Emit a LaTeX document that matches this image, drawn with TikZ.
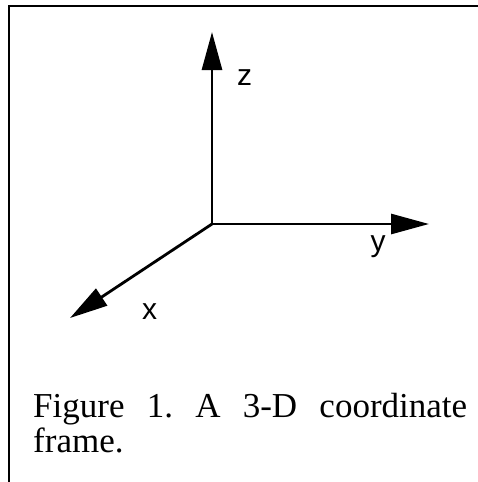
\documentclass[tikz,border=0pt]{standalone}
\usepackage{fontspec}
\setmainfont{Liberation Serif}
\newfontfamily\labelfont{Liberation Sans}
\usetikzlibrary{arrows.meta}
\begin{document}
\begin{tikzpicture}[x=1pt,y=-1pt,
  axis/.style={line width=2.8pt,-{Triangle[length=38pt,width=20pt]}},
  frameline/.style={line width=2pt},
  axlabel/.style={anchor=base,inner sep=0pt,font=\labelfont\fontsize{30}{36}\selectfont},
  caption/.style={anchor=base west,inner sep=0pt,align=left,font=\fontsize{35}{35}\selectfont}]
\useasboundingbox (0,0) rectangle (478,482);
% frame
\coordinate (fa) at (9,482);
\coordinate (fb) at (9,5.5);
\coordinate (fc) at (478,5.5);
\draw[frameline,line join=miter] (fa) -- (fb) -- (fc);
% axes
\coordinate (O) at (212,224);
\coordinate (zt) at (212,32);
\coordinate (yt) at (429,224);
\coordinate (xt) at (70,318);
\draw[axis] (O) -- (zt);
\draw[axis] (O) -- (yt);
\draw[axis] (O) -- (xt);
\node[axlabel] (zl) at (244.5,85) {z};
\node[axlabel] (yl) at (378,251) {y};
\node[axlabel] (xl) at (149.5,319) {x};
% caption (base anchor = baseline of the last line)
\node[caption] (cap) at (33,452) {\hbox to 434pt{Figure\hfill 1.\hfill A\hfill 3-D\hfill coordinate}\\frame.};
\end{tikzpicture}
\end{document}
